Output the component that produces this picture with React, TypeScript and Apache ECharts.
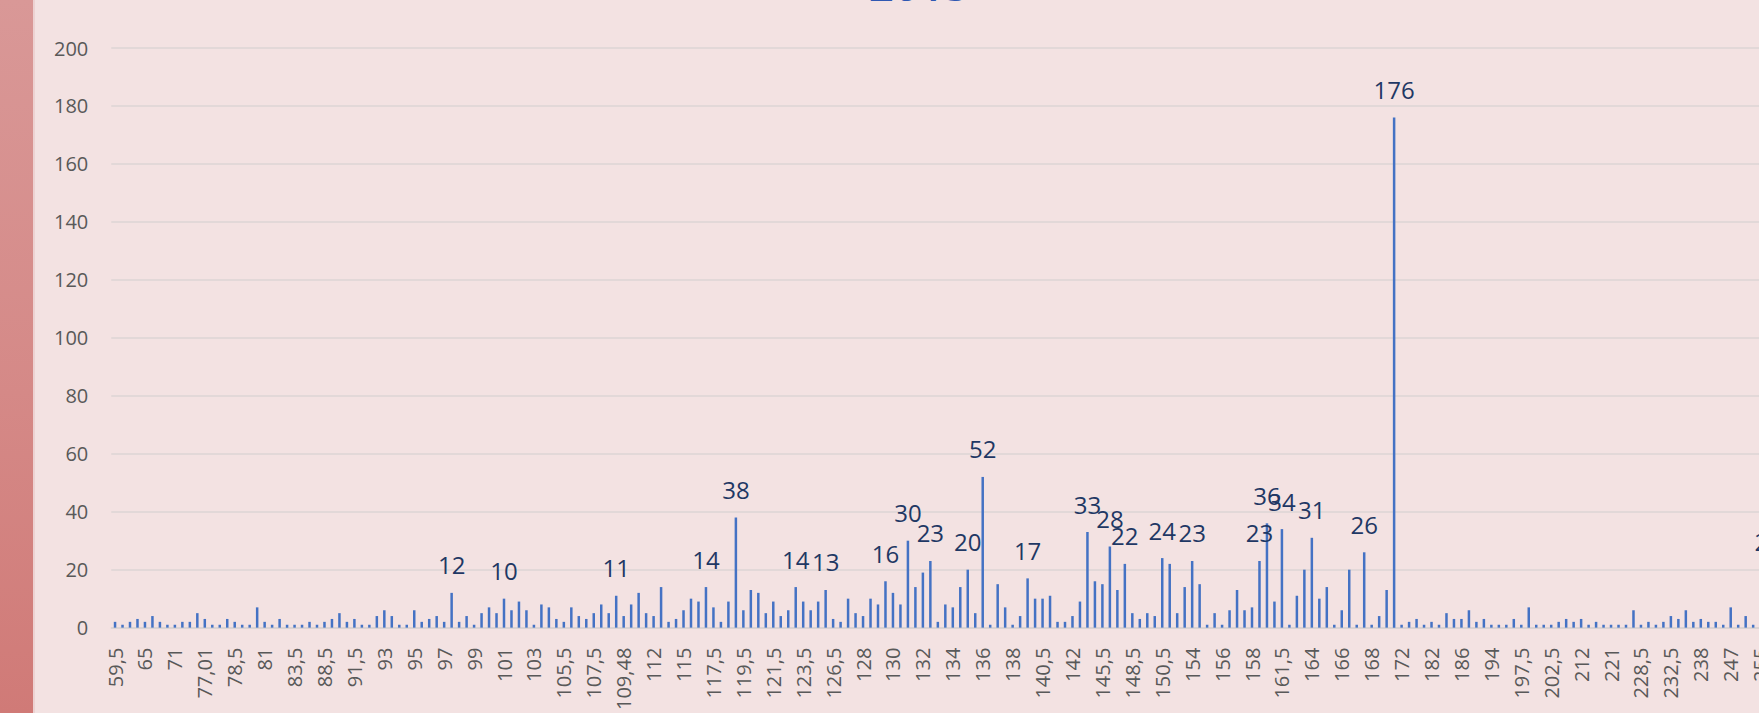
import React, { useEffect, useRef } from "react";
import * as echarts from "echarts";

const titleText = "2013";

const categories: string[] = [
  "59,5", "61", "62,5", "64",
  "65", "66,5", "68", "69,5",
  "71", "72,5", "74", "75,5",
  "77,01", "77,5", "78", "78,2",
  "78,5", "79", "79,5", "80",
  "81", "81,5", "82", "83",
  "83,5", "84,5", "86", "87,5",
  "88,5", "89", "90", "91",
  "91,5", "91,8", "92", "92,5",
  "93", "93,5", "94", "94,5",
  "95", "95,5", "96", "96,5",
  "97", "97,5", "98", "98,5",
  "99", "99,5", "100", "100,5",
  "101", "101,5", "102", "102,5",
  "103", "103,5", "104", "105",
  "105,5", "106", "106,5", "107",
  "107,5", "108", "108,5", "109",
  "109,48", "110", "110,5", "111",
  "112", "112,5", "113,5", "114",
  "115", "115,5", "116", "117",
  "117,5", "118", "118,5", "119",
  "119,5", "120", "120,5", "121",
  "121,5", "122", "122,5", "123",
  "123,5", "124", "125", "126",
  "126,5", "126,8", "127", "127,5",
  "128", "128,5", "129", "129,5",
  "130", "130,5", "131", "131,5",
  "132", "132,5", "133", "133,5",
  "134", "134,5", "135", "135,5",
  "136", "136,5", "137", "137,5",
  "138", "138,5", "139", "140",
  "140,5", "140,8", "141", "141,5",
  "142", "143", "144", "145",
  "145,5", "146", "147", "148",
  "148,5", "149", "149,5", "150",
  "150,5", "151", "152", "153",
  "154", "154,5", "155", "155,5",
  "156", "156,5", "157", "157,5",
  "158", "159", "160", "161",
  "161,5", "162", "163", "163,5",
  "164", "164,5", "165", "165,5",
  "166", "166,5", "167", "167,5",
  "168", "169", "170", "171",
  "172", "174", "176", "178",
  "182", "183", "184", "185",
  "186", "188", "190", "192",
  "194", "195", "196", "197",
  "197,5", "198", "200", "201",
  "202,5", "205", "208", "210",
  "212", "214", "216", "218",
  "221", "223", "225", "227",
  "228,5", "229", "230", "231",
  "232,5", "234", "235", "236",
  "238", "240", "242", "245",
  "247", "249", "251", "253",
  "255", "258",
];

const counts: number[] = [
  2, 1, 2, 3, 2, 4, 2, 1, 1, 2, 2, 5, 3, 1, 1, 3, 2, 1, 1, 7,
  2, 1, 3, 1, 1, 1, 2, 1, 2, 3, 5, 2, 3, 1, 1, 4, 6,
  4, 1, 1, 6, 2, 3, 4, 2, 12, 2, 4, 1, 5, 7, 5, 10, 6, 9, 6, 1,
  8, 7, 3, 2, 7, 4, 3, 5, 8, 5, 11, 4, 8, 12, 5, 4, 14, 2, 3,
  6, 10, 9, 14, 7, 2, 9, 38, 6, 13, 12, 5, 9, 4, 6, 14, 9, 6, 9, 13,
  3, 2, 10, 5, 4, 10, 8, 16, 12, 8, 30, 14, 19, 23, 2, 8, 7, 14, 20,
  5, 52, 1, 15, 7, 1, 4, 17, 10, 10, 11, 2, 2, 4, 9, 33, 16, 15, 28, 13,
  22, 5, 3, 5, 4, 24, 22, 5, 14, 23, 15, 1, 5, 1, 6, 13, 6, 7, 23,
  36, 9, 34, 1, 11, 20, 31, 10, 14, 1, 6, 20, 1, 26, 1, 4, 13, 176, 1, 2,
  3, 1, 2, 1, 5, 3, 3, 6, 2, 3, 1, 1, 1, 3, 1, 7, 1, 1,
  1, 2, 3, 2, 3, 1, 2, 1, 1, 1, 1, 6, 1, 2, 1, 2, 4, 3, 6, 2,
  3, 2, 2, 1, 7, 1, 4, 1, 1, 20,
];

const labelledIndices: number[] = [
  45, 52, 67, 79, 83, 91, 95, 103, 106, 109, 114, 116, 122, 130, 133, 135,
  140, 144, 153, 154, 156, 160, 167, 171, 221,
];

const FONT = "'Open Sans', 'Noto Sans', sans-serif";

export default function App() {
  const ref = useRef<HTMLDivElement>(null);

  useEffect(() => {
    if (!ref.current) return;
    const chart = echarts.init(ref.current, undefined, { renderer: "svg" });
    const band = 7.48;
    const gridLeft = 80.3;
    const data = counts.map((v, i) =>
      labelledIndices.includes(i) ? { value: v, label: { show: true } } : v
    );
    chart.setOption({
      animation: false,
      backgroundColor: "transparent",
      textStyle: { fontFamily: FONT },
      graphic: [
        {
          type: "text",
          x: 888,
          y: 5.5,
          style: {
            text: titleText,
            fill: "#2f58b2",
            font: `600 44px ${FONT}`,
            align: "center",
            verticalAlign: "bottom",
          },
        },
      ],
      grid: {
        left: gridLeft,
        top: 48,
        width: band * categories.length,
        height: 581,
        containLabel: false,
      },
      xAxis: {
        type: "category",
        data: categories,
        boundaryGap: true,
        axisTick: { show: false },
        axisLine: { lineStyle: { color: "#d9d2d2", width: 1.5 } },
        axisLabel: {
          interval: 3,
          rotate: 90,
          margin: 20,
          fontSize: 20,
          color: "#595959",
          fontFamily: FONT,
        },
        splitLine: { show: false },
      },
      yAxis: {
        type: "value",
        min: 0,
        max: 200,
        interval: 20,
        axisLine: { show: false },
        axisTick: { show: false },
        axisLabel: {
          margin: 23,
          fontSize: 20,
          color: "#595959",
          fontFamily: FONT,
        },
        splitLine: { lineStyle: { color: "#dcd4d4", width: 1.5 } },
      },
      series: [
        {
          type: "bar",
          data,
          barWidth: 2.5,
          itemStyle: { color: "#4472c4" },
          label: {
            show: false,
            position: "top",
            distance: 16,
            fontSize: 24,
            color: "#1f3864",
            fontFamily: FONT,
          },
        },
      ],
    });
    return () => chart.dispose();
  }, []);

  return (
    <div
      style={{
        position: "fixed",
        left: 0,
        top: 0,
        width: 1759,
        height: 713,
        overflow: "hidden",
        background: "#f3e2e2",
      }}
    >
      <div
        ref={ref}
        style={{ position: "absolute", left: 31, top: 0, width: 1800, height: 713 }}
      />
      <div
        style={{
          position: "absolute",
          left: 0,
          top: 0,
          width: 33,
          height: 713,
          background: "linear-gradient(180deg, #d99897 0%, #d58987 55%, #d07a77 100%)",
        }}
      />
      <div
        style={{
          position: "absolute",
          left: 33,
          top: 0,
          width: 2,
          height: 713,
          background: "#ecd2d2",
        }}
      />
    </div>
  );
}
